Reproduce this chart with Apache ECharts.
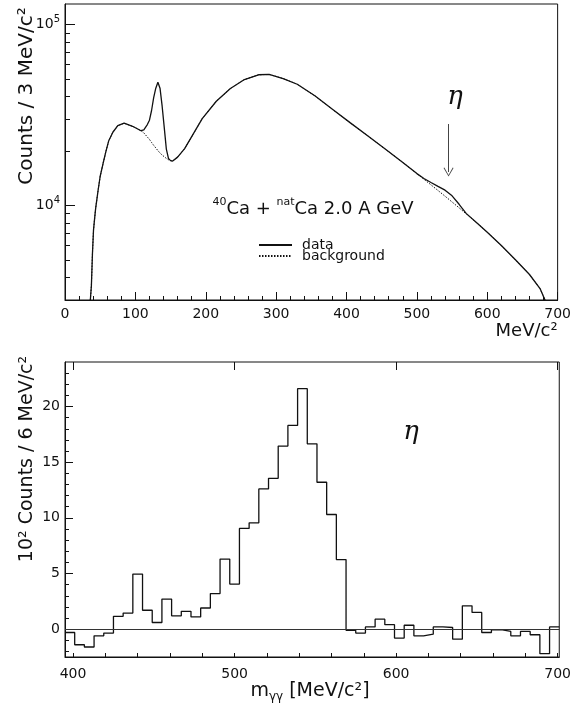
<!DOCTYPE html>
<html>
<head>
<meta charset="utf-8">
<script src="https://cdn.jsdelivr.net/npm/echarts@6/dist/echarts.min.js"></script>
<style>
html, body { margin: 0; padding: 0; background: #fff; }
#chart { width: 574px; height: 719px; }
</style>
</head>
<body>
<div id="chart"></div>
<script>
// upper panel: inclusive gamma-gamma mass spectrum (counts / 3 MeV)
const topMass = [36, 37.5, 39, 40.5, 42, 43.5, 45, 47, 50, 54, 58, 62, 68, 75, 84, 96, 108,
  112, 117, 120, 123, 126, 129, 132, 135, 138, 141, 144, 147, 150, 153, 160, 170, 180, 195,
  215, 235, 255, 275, 290, 310, 330, 355, 380, 405, 430, 455, 480, 500, 510, 520, 530, 540,
  550, 560, 570, 585, 600, 620, 640, 660, 675, 682];
const topData = [3000, 3600, 5400, 7300, 8400, 9600, 10600, 12100, 14500, 17000, 19800, 22700,
  25400, 27600, 28500, 27400, 25900, 26200, 28000, 29600, 33500, 39500, 44500, 48000, 44500,
  35500, 27000, 20500, 18200, 17700, 17600, 18500, 20600, 24000, 30200, 37700, 44300, 49700,
  52800, 53000, 50300, 46800, 40400, 34000, 28700, 24300, 20500, 17300, 15000, 14100, 13400,
  12750, 12150, 11300, 10150, 9040, 8020, 7110, 6000, 5010, 4150, 3470, 3000];
const topBackground = [3000, 3600, 5400, 7300, 8400, 9600, 10600, 12100, 14500, 17000, 19800, 22700,
  25400, 27600, 28500, 27400, 25900, 25200, 23900, 23200, 22300, 21500, 20800, 20100, 19500,
  19000, 18600, 18200, 17900, 17700, 17600, 18500, 20600, 24000, 30200, 37700, 44300, 49700,
  52800, 53000, 50300, 46800, 40400, 34000, 28700, 24300, 20500, 17300, 15000, 13960, 13000,
  12100, 11250, 10450, 9700, 8990, 8020, 7110, 6000, 5010, 4150, 3470, 3000];

// lower panel: background subtracted spectrum, 6 MeV bins starting at 395, in 10^2 counts
const binStart = 395;
const binWidth = 6;
const etaCounts = [-0.3, -1.4, -1.6, -0.6, -0.35, 1.15, 1.45, 4.95, 1.7, 0.6, 2.7, 1.2, 1.6,
  1.1, 1.9, 3.2, 6.3, 4.05, 9.05, 9.55, 12.6, 13.55, 16.45, 18.3, 21.6, 16.65, 13.2, 10.3, 6.25,
  -0.1, -0.35, 0.2, 0.9, 0.4, -0.8, 0.35, -0.6, -0.45, 0.2, 0.15, -0.9, 2.1, 1.5, -0.3, -0.05,
  -0.2, -0.6, -0.2, -0.5, -2.2, 0.2];

const topYLabels = [10000, 100000];
const bottomXLabels = [400, 500, 600, 700];
const bottomYLabels = [0, 5, 10, 15, 20];

const FONT = 'DejaVu Sans';
const INK = '#111';

const topYMinor = [];
for (let d = 1000; d <= 100000; d *= 10) {
  for (let k = 1; k <= 9; k++) topYMinor.push(d * k);
}
const bottomXMinor = [];
for (let v = 400; v <= 700; v += 20) bottomXMinor.push(v);
const bottomYMinor = [];
for (let v = -2; v <= 23; v++) bottomYMinor.push(v);

const dataPts = topMass.map((m, i) => [m, topData[i]]);
const bgPts = topMass.map((m, i) => [m, topBackground[i]]);
const etaPts = etaCounts.map((c, i) => [binStart + i * binWidth, c]);
etaPts.push([binStart + etaCounts.length * binWidth, etaCounts[etaCounts.length - 1]]);

const chart = echarts.init(document.getElementById('chart'));

const sup = {
  a: { fontFamily: FONT, fontSize: 14, color: INK, lineHeight: 20 },
  s: { fontFamily: FONT, fontSize: 10, color: INK, lineHeight: 11, verticalAlign: 'top' }
};

const ink = { color: INK, width: 1 };

chart.setOption({
  animation: false,
  backgroundColor: '#fff',
  grid: [
    { left: 65, top: 4, right: 12, bottom: 419, show: true, borderColor: INK, borderWidth: 1 },
    { left: 65, top: 362, right: 14, bottom: 62, show: true, borderColor: INK, borderWidth: 1 }
  ],
  legend: {
    orient: 'vertical',
    left: 253,
    top: 233,
    itemWidth: 33,
    itemHeight: 8,
    itemGap: -3,
    selectedMode: false,
    itemStyle: { opacity: 0 },
    data: ['data', 'background'],
    textStyle: { fontFamily: FONT, fontSize: 14, color: INK, lineHeight: 12, padding: [0, 0, 0, 5] }
  },
  xAxis: [
    {
      gridIndex: 0, type: 'value', min: 0, max: 700, interval: 100,
      axisLine: { onZero: false, lineStyle: ink },
      axisTick: { inside: true, length: 8, lineStyle: ink },
      minorTick: { show: true, splitNumber: 5, length: 4, lineStyle: ink },
      splitLine: { show: false },
      axisLabel: { fontFamily: FONT, fontSize: 14, color: INK, margin: 7 },
      name: 'MeV/c²', nameLocation: 'end', nameGap: 0,
      nameTextStyle: { fontFamily: FONT, fontSize: 18, color: INK, align: 'right', verticalAlign: 'top', padding: [22, 0, 0, 0] }
    },
    {
      gridIndex: 1, type: 'value', min: 395, max: 701,
      axisLine: { onZero: false, lineStyle: ink },
      axisTick: { inside: true, length: 4, customValues: bottomXMinor, lineStyle: ink },
      splitLine: { show: false },
      axisLabel: { fontFamily: FONT, fontSize: 14, color: INK, margin: 10, customValues: bottomXLabels }
    },
    {
      gridIndex: 1, type: 'value', min: 395, max: 701,
      axisLine: { show: false, onZero: false },
      axisTick: { inside: true, length: 8, customValues: bottomXLabels, lineStyle: ink },
      axisLabel: { show: false },
      splitLine: { show: false }
    }
  ],
  yAxis: [
    {
      gridIndex: 0, type: 'log', min: 3000, max: 130000,
      axisLine: { onZero: false, lineStyle: ink },
      axisTick: { inside: true, length: 5, customValues: topYMinor, lineStyle: ink },
      splitLine: { show: false },
      axisLabel: {
        margin: 5, customValues: topYLabels,
        formatter: v => '{a|10}{s|' + Math.round(Math.log10(v)) + '}',
        rich: sup
      }
    },
    {
      gridIndex: 0, type: 'log', min: 3000, max: 130000, position: 'left',
      axisLine: { show: false, onZero: false },
      axisTick: { inside: true, length: 10, customValues: topYLabels, lineStyle: ink },
      axisLabel: { show: false },
      splitLine: { show: false }
    },
    {
      gridIndex: 1, type: 'value', min: -2.5, max: 24,
      axisLine: { onZero: false, lineStyle: ink },
      axisTick: { inside: true, length: 4, customValues: bottomYMinor, lineStyle: ink },
      splitLine: { show: false },
      axisLabel: { fontFamily: FONT, fontSize: 14, color: INK, margin: 5, customValues: bottomYLabels }
    },
    {
      gridIndex: 1, type: 'value', min: -2.5, max: 24, position: 'left',
      axisLine: { show: false, onZero: false },
      axisTick: { inside: true, length: 8, customValues: bottomYLabels, lineStyle: ink },
      axisLabel: { show: false },
      splitLine: { show: false }
    }
  ],
  series: [
    {
      name: 'background', type: 'line', xAxisIndex: 0, yAxisIndex: 0,
      data: bgPts, symbol: 'none', z: 2,
      lineStyle: { color: INK, width: 1, type: [1.5, 1.5] },
      itemStyle: { color: INK }
    },
    {
      name: 'data', type: 'line', xAxisIndex: 0, yAxisIndex: 0,
      data: dataPts, symbol: 'none', z: 3,
      lineStyle: { color: INK, width: 1.3 },
      itemStyle: { color: INK },
      markLine: {
        silent: true,
        symbol: ['none', 'path://M5,0 L10,8 L9.2,8.5 L5,1.5 L0.8,8.5 L0,8 Z'],
        symbolSize: [10, 9],
        lineStyle: { color: '#444', width: 1, type: 'solid' },
        label: { show: false },
        data: [[{ coord: [545, 28200] }, { coord: [545, 15300] }]]
      }
    },
    {
      name: 'eta', type: 'line', xAxisIndex: 1, yAxisIndex: 2,
      data: etaPts, step: 'end', symbol: 'none',
      lineStyle: { color: INK, width: 1.3 },
      markLine: {
        silent: true, symbol: 'none',
        lineStyle: { color: '#333', width: 1, type: 'solid' },
        label: { show: false },
        data: [{ yAxis: 0 }]
      }
    }
  ],
  graphic: [
    {
      type: 'text', x: 27, y: 96, rotation: Math.PI / 2,
      style: { text: 'Counts / 3 MeV/c²', font: '20px "DejaVu Sans"', fill: INK, align: 'center', verticalAlign: 'middle', textAlign: 'center', textVerticalAlign: 'middle' }
    },
    {
      type: 'text', x: 27, y: 459, rotation: Math.PI / 2,
      style: { text: '10² Counts / 6 MeV/c²', font: '19px "DejaVu Sans"', fill: INK, align: 'center', verticalAlign: 'middle', textAlign: 'center', textVerticalAlign: 'middle' }
    },
    {
      type: 'text', x: 310, y: 691,
      style: {
        text: '{a|m}{b|γγ}{a| [MeV/c²]}',
        align: 'center', verticalAlign: 'middle', textAlign: 'center', textVerticalAlign: 'middle',
        rich: {
          a: { fontFamily: FONT, fontSize: 19, fill: INK, color: INK, lineHeight: 24 },
          b: { fontFamily: FONT, fontSize: 12, fill: INK, color: INK, lineHeight: 12, verticalAlign: 'bottom' }
        }
      }
    },
    {
      type: 'text', x: 313, y: 209,
      style: {
        text: '{s|40}{a|Ca + }{s|nat}{a|Ca 2.0 A GeV}',
        align: 'center', verticalAlign: 'middle', textAlign: 'center', textVerticalAlign: 'middle',
        rich: {
          a: { fontFamily: FONT, fontSize: 18, fill: INK, color: INK, lineHeight: 24 },
          s: { fontFamily: FONT, fontSize: 11, fill: INK, color: INK, lineHeight: 13, verticalAlign: 'top' }
        }
      }
    },
    {
      type: 'text', x: 455, y: 97,
      style: { text: 'η', font: 'italic 26px "DejaVu Serif"', fill: INK, align: 'center', verticalAlign: 'middle', textAlign: 'center', textVerticalAlign: 'middle' }
    },
    {
      type: 'text', x: 411, y: 432,
      style: { text: 'η', font: 'italic 26px "DejaVu Serif"', fill: INK, align: 'center', verticalAlign: 'middle', textAlign: 'center', textVerticalAlign: 'middle' }
    }
  ]
});
</script>
</body>
</html>
